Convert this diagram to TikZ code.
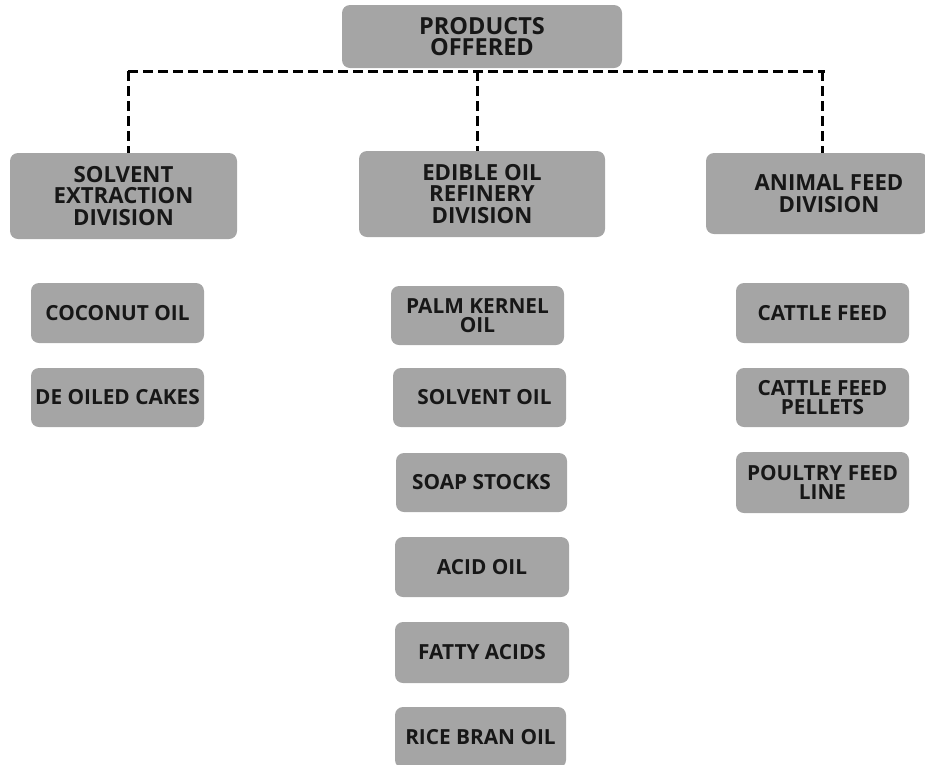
\documentclass[tikz,border=0pt]{standalone}
\usepackage{fontspec}
\setmainfont{Open Sans}
\definecolor{boxgray}{HTML}{A5A5A5}
\definecolor{txt}{HTML}{171717}
\tikzset{
  box/.style={fill=boxgray, rounded corners=8pt, inner sep=0pt, align=center, text=txt, font=\bfseries},
  topbox/.style={box, font=\fontsize{23.5}{21.5}\selectfont\bfseries},
  divbox/.style={box, font=\fontsize{22.2}{21.5}\selectfont\bfseries},
  itembox/.style={box, font=\fontsize{20.8}{19.5}\selectfont\bfseries},
  conn/.style={draw=black, line width=3pt, dash pattern=on 10pt off 5pt}
}
\newcommand{\bx}[7]{% style, name, x1, y1, x2, y2, text
  \node[#1, minimum width=#5-#3, minimum height=#6-#4] (#2) at ({(#3+#5)/2},{(#4+#6)/2}) {#7};}
\begin{document}
\begin{tikzpicture}[x=1pt,y=-1pt]
\useasboundingbox (0,0) rectangle (925,764);
% top
\bx{topbox}{prod}{342}{5}{622}{68}{PRODUCTS\\OFFERED}
% divisions
\bx{divbox}{sol}{10}{153}{237}{239}{SOLVENT\\EXTRACTION\\DIVISION}
\bx{divbox}{edi}{359}{151}{605}{237}{EDIBLE OIL\\REFINERY\\DIVISION}
\bx{divbox}{ani}{706}{153}{928}{234}{\hspace*{24pt}ANIMAL FEED\\\hspace*{24pt}DIVISION}
% solvent items
\bx{itembox}{coc}{31}{283}{204}{343}{COCONUT OIL}
\bx{itembox}{dec}{31}{368}{204}{427}{DE OILED CAKES}
% edible items
\bx{itembox}{pal}{391}{286}{564}{345}{PALM KERNEL\\OIL}
\bx{itembox}{svo}{393}{368}{566}{427}{\hspace*{10pt}SOLVENT OIL}
\bx{itembox}{soa}{396}{453}{567}{512}{SOAP STOCKS}
\bx{itembox}{aci}{395}{537}{569}{597}{ACID OIL}
\bx{itembox}{fat}{395}{622}{569}{683}{FATTY ACIDS}
\bx{itembox}{ric}{395}{707}{566}{768}{RICE BRAN OIL}
% animal items
\bx{itembox}{cat}{736}{283}{909}{343}{CATTLE FEED}
\bx{itembox}{cfp}{736}{368}{909}{427}{CATTLE FEED\\PELLETS}
\bx{itembox}{pou}{736}{452}{909}{513}{POULTRY FEED\\LINE}
% connectors
\coordinate (busl) at (128,71);
\coordinate (busr) at (825,71);
\coordinate (bl) at (128,153);
\coordinate (bm) at (477,151);
\coordinate (br) at (822,153);
\draw[conn] (busl) -- (busr);
\draw[conn] (busl) -- (bl);
\draw[conn] (bm |- busl) -- (bm);
\draw[conn] (br |- busr) -- (br);
\end{tikzpicture}
\end{document}
